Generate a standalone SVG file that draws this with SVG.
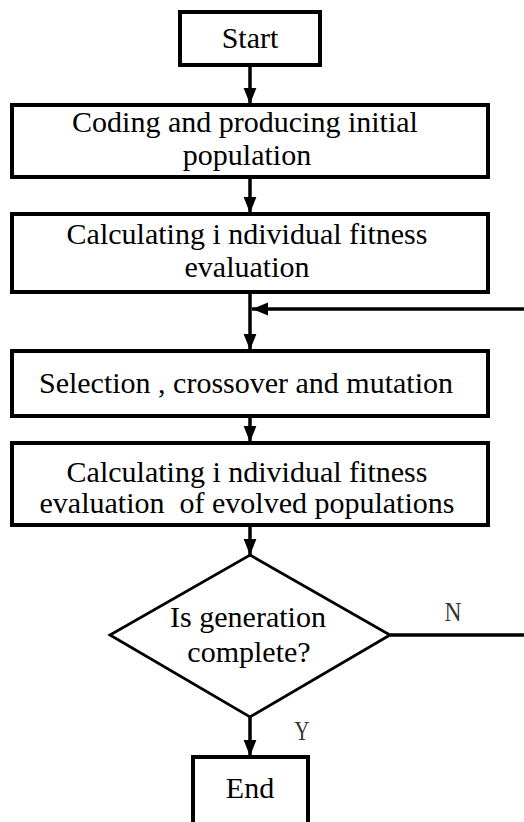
<svg xmlns="http://www.w3.org/2000/svg" width="524" height="822" viewBox="0 0 524 822">
<style>
.box{fill:#fff;stroke:#000;stroke-width:4}
.dia{fill:#fff;stroke:#000;stroke-width:2.8}
.t{font-size:30px;fill:#000;text-anchor:middle}
.lbl{font-size:28px;fill:#333;text-anchor:middle}
.c{fill:none;stroke:#000;stroke-width:3.5}
</style>
<defs>
<marker id="ah" markerUnits="userSpaceOnUse" markerWidth="16" markerHeight="22" refX="20" refY="8" viewBox="0 0 20 16" orient="auto">
<path d="M0,0 L20,8 L0,16 Z" fill="#000"/>
</marker>
</defs>
<rect width="524" height="822" fill="#fff"/>
<g font-family="Liberation Serif, Times New Roman, serif">
<g id="connectors">
<line class="c" x1="250" y1="65" x2="250" y2="104" marker-end="url(#ah)"/>
<line class="c" x1="250" y1="177" x2="250" y2="213" marker-end="url(#ah)"/>
<line class="c" x1="250" y1="292" x2="250" y2="350" marker-end="url(#ah)"/>
<line class="c" x1="250" y1="416" x2="250" y2="442" marker-end="url(#ah)"/>
<line class="c" x1="250" y1="525" x2="250" y2="555" marker-end="url(#ah)"/>
<line class="c" x1="250" y1="717" x2="250" y2="756" marker-end="url(#ah)"/>
<path class="c" d="M390,635 H540 V309 H252" marker-end="url(#ah)"/>
<text class="lbl" x="453" y="621" textLength="17" lengthAdjust="spacingAndGlyphs">N</text>
<text class="lbl" x="302" y="740" textLength="15" lengthAdjust="spacingAndGlyphs">Y</text>
</g>
<g id="start">
<rect class="box" x="180" y="12" width="140" height="53"/>
<text class="t" x="250" y="48">Start</text>
</g>
<g id="coding">
<rect class="box" x="12" y="105" width="476" height="72"/>
<text class="t" x="245" y="132">Coding and producing initial</text>
<text class="t" x="247" y="165">population</text>
</g>
<g id="fitness">
<rect class="box" x="12" y="214" width="476" height="78"/>
<text class="t" x="247" y="244">Calculating i ndividual fitness</text>
<text class="t" x="247" y="277">evaluation</text>
</g>
<g id="selection">
<rect class="box" x="12" y="351" width="476" height="65"/>
<text class="t" x="246" y="393">Selection , crossover and mutation</text>
</g>
<g id="evolved">
<rect class="box" x="12" y="443" width="476" height="82"/>
<text class="t" x="247" y="482">Calculating i ndividual fitness</text>
<text class="t" x="247" y="513" xml:space="preserve">evaluation  of evolved populations</text>
</g>
<g id="decision">
<polygon class="dia" points="250,555 390,635 250,717 110,635"/>
<text class="t" x="248" y="627">Is generation</text>
<text class="t" x="249" y="662">complete?</text>
</g>
<g id="end">
<rect class="box" x="193" y="757" width="115" height="80"/>
<text class="t" x="250" y="798">End</text>
</g>
</g>
</svg>
